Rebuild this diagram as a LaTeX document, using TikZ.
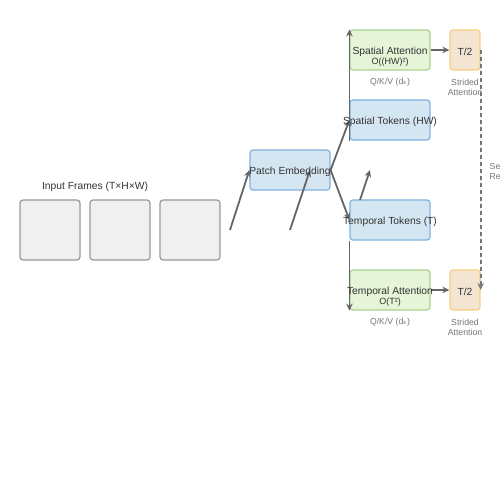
\documentclass[tikz,border=0pt]{standalone}
\usepackage{fontspec}
\setmainfont{Liberation Sans}
\newfontfamily\djv{DejaVu Sans}
\usetikzlibrary{arrows.meta}
\definecolor{bluefill}{HTML}{D5E6F3}
\definecolor{bluedraw}{HTML}{7FB2E0}
\definecolor{greenfill}{HTML}{E6F4D7}
\definecolor{greendraw}{HTML}{A9D18E}
\definecolor{orangefill}{HTML}{F4E5D3}
\definecolor{orangedraw}{HTML}{F8CF7E}
\definecolor{framefill}{HTML}{F0F0F0}
\definecolor{framedraw}{HTML}{999999}
\definecolor{txt}{HTML}{333333}
\definecolor{lbl}{HTML}{777777}
\definecolor{arr}{HTML}{666666}
\tikzset{
  box/.style={draw, rounded corners=3pt, line width=1.2pt, inner sep=0pt, text=txt, font=\fontsize{10}{12}\selectfont},
  bluebox/.style={box, fill=bluefill, draw=bluedraw, minimum width=80pt, minimum height=40pt},
  greenbox/.style={box, fill=greenfill, draw=greendraw, minimum width=80pt, minimum height=40pt},
  orangebox/.style={box, fill=orangefill, draw=orangedraw, minimum width=30pt, minimum height=40pt},
  framebox/.style={box, fill=framefill, draw=framedraw, minimum width=60pt, minimum height=60pt},
  maintxt/.style={text=txt, font=\fontsize{10.3}{12}\selectfont, inner sep=0pt},
  subtxt/.style={text=txt, font=\fontsize{9}{10}\selectfont, inner sep=0pt},
  graytxt/.style={text=lbl, font=\fontsize{8.7}{10}\selectfont, inner sep=0pt, align=center},
  conn/.style={draw=arr, line width=1.8pt, -{Stealth[length=7pt,width=6.5pt]}},
}
\begin{document}
\begin{tikzpicture}[x=1pt,y=-1pt]
\useasboundingbox (0,0) rectangle (500,500);
\fill[white] (0,0) rectangle (500,500);
% input frames
\node[maintxt] (inlbl) at (95,187) {Input Frames (T×H×W)};
\node[framebox] (f1) at (50,230) {};
\node[framebox] (f2) at (120,230) {};
\node[framebox] (f3) at (190,230) {};
% patch embedding
\node[bluebox] (pe) at (290,170) {};
% tokens
\node[bluebox] (st) at (390,120) {};
\node[bluebox] (tt) at (390,220) {};
% attention
\node[greenbox] (sa) at (390,50) {};
\node[greenbox] (ta) at (390,290) {};
% strided
\node[orangebox] (s1) at (465,50) {};
\node[orangebox] (s2) at (465,290) {};
% coordinates for free ends
\coordinate (a1) at (230,230);
\coordinate (a2) at (290,230);
\coordinate (a2e) at (310,170);
\coordinate (a3) at (360,200);
\coordinate (a3e) at (370,170);
% connectors
\draw[conn] (a1) -- (pe.west);
\draw[conn] (a2) -- (a2e);
\draw[conn] (pe.east) -- (st.west);
\draw[conn] (pe.east) -- (tt.west);
\draw[conn] (a3) -- (a3e);
\draw[conn] (st.south west) -- (sa.north west);
\draw[conn] (tt.south west) -- (ta.south west);
\draw[conn] (sa.east) -- (s1.west);
\draw[conn] (ta.east) -- (s2.west);
\draw[conn, draw=lbl, fill=lbl, dash pattern=on 4pt off 3pt] (s1.east) -- (s2.east);
% texts on boxes (drawn above connectors)
\node[maintxt] at (290,171.5) {Patch Embedding};
\node[maintxt] at (390,121.5) {Spatial Tokens (HW)};
\node[maintxt] at (390,221.5) {Temporal Tokens (T)};
\node[maintxt] at (390,51.5) {Spatial Attention};
\node[subtxt] at (390,62) {O((HW)²)};
\node[maintxt] at (390,291.5) {Temporal Attention};
\node[subtxt] at (390,302) {O(T²)};
\node[maintxt] at (465,51.5) {T/2};
\node[maintxt] at (465,291.5) {T/2};
% labels
\node[graytxt] (q1) at (390,82.5) {Q/K/V (d{\djv ₖ})};
\node[graytxt] (q2) at (390,322.5) {Q/K/V (d{\djv ₖ})};
\node[graytxt] (l1) at (465,82.5) {Strided};
\node[graytxt] (l1b) at (465,92.5) {Attention};
\node[graytxt] (l2) at (465,322.5) {Strided};
\node[graytxt] (l2b) at (465,332.5) {Attention};
\node[graytxt, anchor=west] (se) at (489.5,166.5) {Se};
\node[graytxt, anchor=west] (re) at (489.5,177) {Re};
\end{tikzpicture}
\end{document}
